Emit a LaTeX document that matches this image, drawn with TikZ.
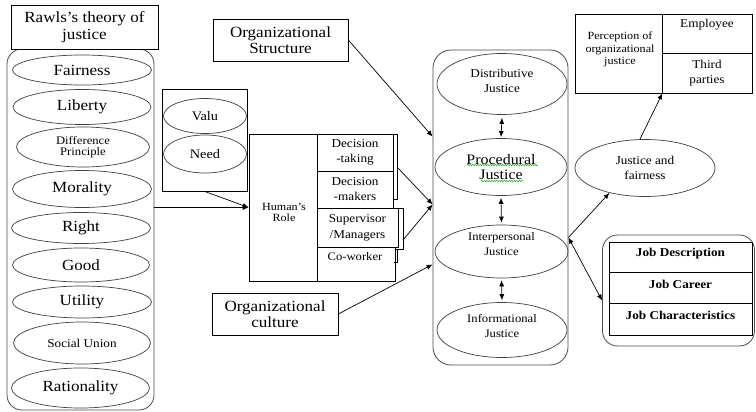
\documentclass[tikz,border=0pt]{standalone}
\usepackage{fontspec}
\setmainfont[FakeStretch=1.1]{Liberation Serif}
\usetikzlibrary{shapes.geometric,arrows.meta,calc,decorations.pathmorphing}
\newcommand\myfs[2]{\fontsize{#1}{#2}\selectfont}
\begin{document}
\begin{tikzpicture}[x=1pt,y=-1pt,
  box/.style={draw=black, line width=0.7pt, inner sep=0pt, align=center},
  ell/.style={ellipse, draw=black!75, line width=0.7pt, inner sep=0pt, align=center},
  cont/.style={draw=black!70, line width=0.8pt, rounded corners=15pt, inner sep=0pt},
  txt/.style={inner sep=0pt, align=center},
  arr/.style={-{Latex[length=6pt,width=5pt]}, line width=0.7pt},
  darr/.style={{Latex[length=6pt,width=5pt]}-{Latex[length=6pt,width=5pt]}, line width=0.7pt},
  squig/.style={draw=green!60!black, line width=0.5pt, decorate, decoration={snake, amplitude=0.6pt, segment length=2.5pt}}
]
\useasboundingbox (0,0) rectangle (756,412);
\fill[white] (0,0) rectangle (756,412);

% ---------- Rawls ----------
\node[cont, minimum width=147pt, minimum height=361pt] (rc) at (80.5,229.5) {};
\node[box, fill=white, minimum width=147pt, minimum height=44pt, font=\myfs{15.5}{17}] (rt) at (84.5,27) {Rawls’s theory of\\justice};
\node[ell, minimum width=139pt, minimum height=30pt, font=\myfs{15.5}{17}] (fa) at (82,70) {Fairness};
\node[ell, minimum width=138pt, minimum height=35pt, font=\myfs{15.5}{17}] (li) at (82,107) {Liberty};
\node[ell, minimum width=133pt, minimum height=40pt, font=\myfs{11.5}{11}] (dp) at (83,147) {Difference\\Principle};
\node[ell, minimum width=139pt, minimum height=37pt, font=\myfs{15.5}{17}] (mo) at (82,189) {Morality};
\node[ell, minimum width=139pt, minimum height=31pt, font=\myfs{15.5}{17}] (ri) at (81,228) {Right};
\node[ell, minimum width=137pt, minimum height=34pt, font=\myfs{15.5}{17}] (go) at (81,265) {Good};
\node[ell, minimum width=139pt, minimum height=32pt, font=\myfs{15.5}{17}] (ut) at (82,302) {Utility};
\node[ell, minimum width=137pt, minimum height=42pt, font=\myfs{12}{14}] (su) at (82,343) {Social Union};
\node[ell, minimum width=138pt, minimum height=40pt, font=\myfs{15.5}{17}] (ra) at (80.5,388) {Rationality};

% ---------- Valu / Need ----------
\node[box, minimum width=85pt, minimum height=102pt] (vn) at (204.5,140) {};
\node[ell, minimum width=83pt, minimum height=35pt, font=\myfs{13}{15}] (va) at (205,116) {Valu};
\node[ell, minimum width=83pt, minimum height=38pt, font=\myfs{13}{15}] (ne) at (205,154) {Need};

% ---------- Human's role ----------
\node[box, minimum width=68pt, minimum height=147pt] (hr) at (283,207.5) {};
\node[txt, font=\myfs{11}{11}] (hrt) at (284,212) {Human’s\\Role};
\node[box, minimum width=76pt, minimum height=37pt, font=\myfs{12}{15}] (dt) at (355,152.5) {Decision\\-taking};
\node[box, minimum width=76pt, minimum height=37pt, font=\myfs{12}{15}] (dm) at (355,189.5) {Decision\\-makers};
\node[box, minimum width=81pt, minimum height=39pt, font=\myfs{12}{16}] (sm) at (357.5,227.5) {Supervisor\\/Managers};
\node[box, minimum width=78pt, minimum height=34pt] (cw) at (356,264) {};
\node[txt, font=\myfs{11.5}{14}] (cwt) at (355,257) {Co-worker};
\draw[line width=0.7pt] (393,134) -- (397,134) -- (397,199) -- (393,199);
\draw[line width=0.7pt] (398,208) -- (403,208) -- (403,249) -- (395,249);
\draw[line width=0.7pt] (397,250) -- (397,262) -- (394,262);
\coordinate (b1) at (397,167);
\coordinate (b2) at (403,240);

% ---------- Organizational ----------
\node[box, minimum width=135pt, minimum height=42pt, font=\myfs{15.5}{16.5}] (os) at (280.5,40) {Organizational\\Structure};
\node[box, minimum width=126pt, minimum height=42pt, font=\myfs{15.5}{16.5}] (oc) at (275,314) {Organizational\\culture};

% ---------- Justice container ----------
\node[cont, rounded corners=18pt, minimum width=135pt, minimum height=315pt] (jc) at (500.5,207.5) {};
\node[ell, minimum width=130pt, minimum height=61pt] (dj) at (502,84) {};
\node[txt, font=\myfs{12}{15}] (djt) at (502,80.5) {Distributive\\Justice};
\node[ell, minimum width=132pt, minimum height=57pt, font=\myfs{14.5}{15.5}] (pj) at (501,167) {Procedural\\Justice};
\draw[squig] (467,165) -- (538,165);
\draw[squig] (481,181) -- (523,181);
\node[ell, minimum width=133pt, minimum height=53pt] (ip) at (501.5,251.5) {};
\node[txt, font=\myfs{11.5}{15}] (ipt) at (501.5,244.5) {Interpersonal\\Justice};
\node[ell, minimum width=130pt, minimum height=55pt] (in) at (502,330) {};
\node[txt, font=\myfs{11.5}{15}] (int) at (502,326.5) {Informational\\Justice};
\draw[darr] ($(dj.south)+(0,3)$) -- ($(pj.north)+(0,-1)$);
\draw[darr] ($(pj.south)+(0,2)$) -- ($(ip.north)+(0,-2)$);
\draw[darr] ($(ip.south)+(0,2)$) -- ($(in.north)+(0,-2)$);

% ---------- Right side ----------
\node[ell, minimum width=140pt, minimum height=57pt, font=\myfs{12}{15}] (jf) at (645,168) {Justice and\\fairness};
\node[box, minimum width=87pt, minimum height=79pt] (pc) at (618.5,53.5) {};
\node[txt, font=\myfs{11}{12.5}] (pct) at (620,49.5) {Perception of\\organizational\\justice};
\node[box, minimum width=90pt, minimum height=39pt] (em) at (707,33.5) {};
\node[txt, font=\myfs{12}{15}] (emt) at (707,25) {Employee};
\node[box, minimum width=90pt, minimum height=40pt, font=\myfs{12}{15}] (tp) at (707,73) {Third\\parties};

\node[cont, minimum width=152pt, minimum height=111pt] (jb) at (678.5,290.5) {};
\node[box, minimum width=143pt, minimum height=30pt] (jd) at (680.5,257) {};
\node[box, minimum width=143pt, minimum height=31pt] (jk) at (680.5,287.5) {};
\node[box, minimum width=143pt, minimum height=32pt] (jh) at (680.5,319) {};
\node[txt, font=\myfs{12}{14}\bfseries] (jdt) at (680.5,254) {Job Description};
\node[txt, font=\myfs{12}{14}\bfseries] (jkt) at (680.5,284) {Job Career};
\node[txt, font=\myfs{12}{14}\bfseries] (jht) at (680.5,315) {Job Characteristics};

% ---------- Connectors ----------
\draw[arr] (rc.east |- hr.west) -- (hr.west);
\draw[arr] (vn.south) -- (hr.west);
\draw[arr] (os.east) -- ($(jc.north west)+(0,87)$);
\draw[arr] (b1) -- ($(jc.west)+(0,-3)$);
\draw[arr] (b2) -- ($(jc.west)+(0,-3)$);
\draw[arr] (oc.east) -- ($(jc.south west)+(0,-101)$);
\coordinate (jx) at ($(jc.east)+(0,30)$);
\draw[arr] (jx) -- (jf.215);
\draw[darr] (jx) -- ($(jb.west)+(0,10)$);
\draw[arr] (jf.100) -- (pc.south east);
\end{tikzpicture}
\end{document}
